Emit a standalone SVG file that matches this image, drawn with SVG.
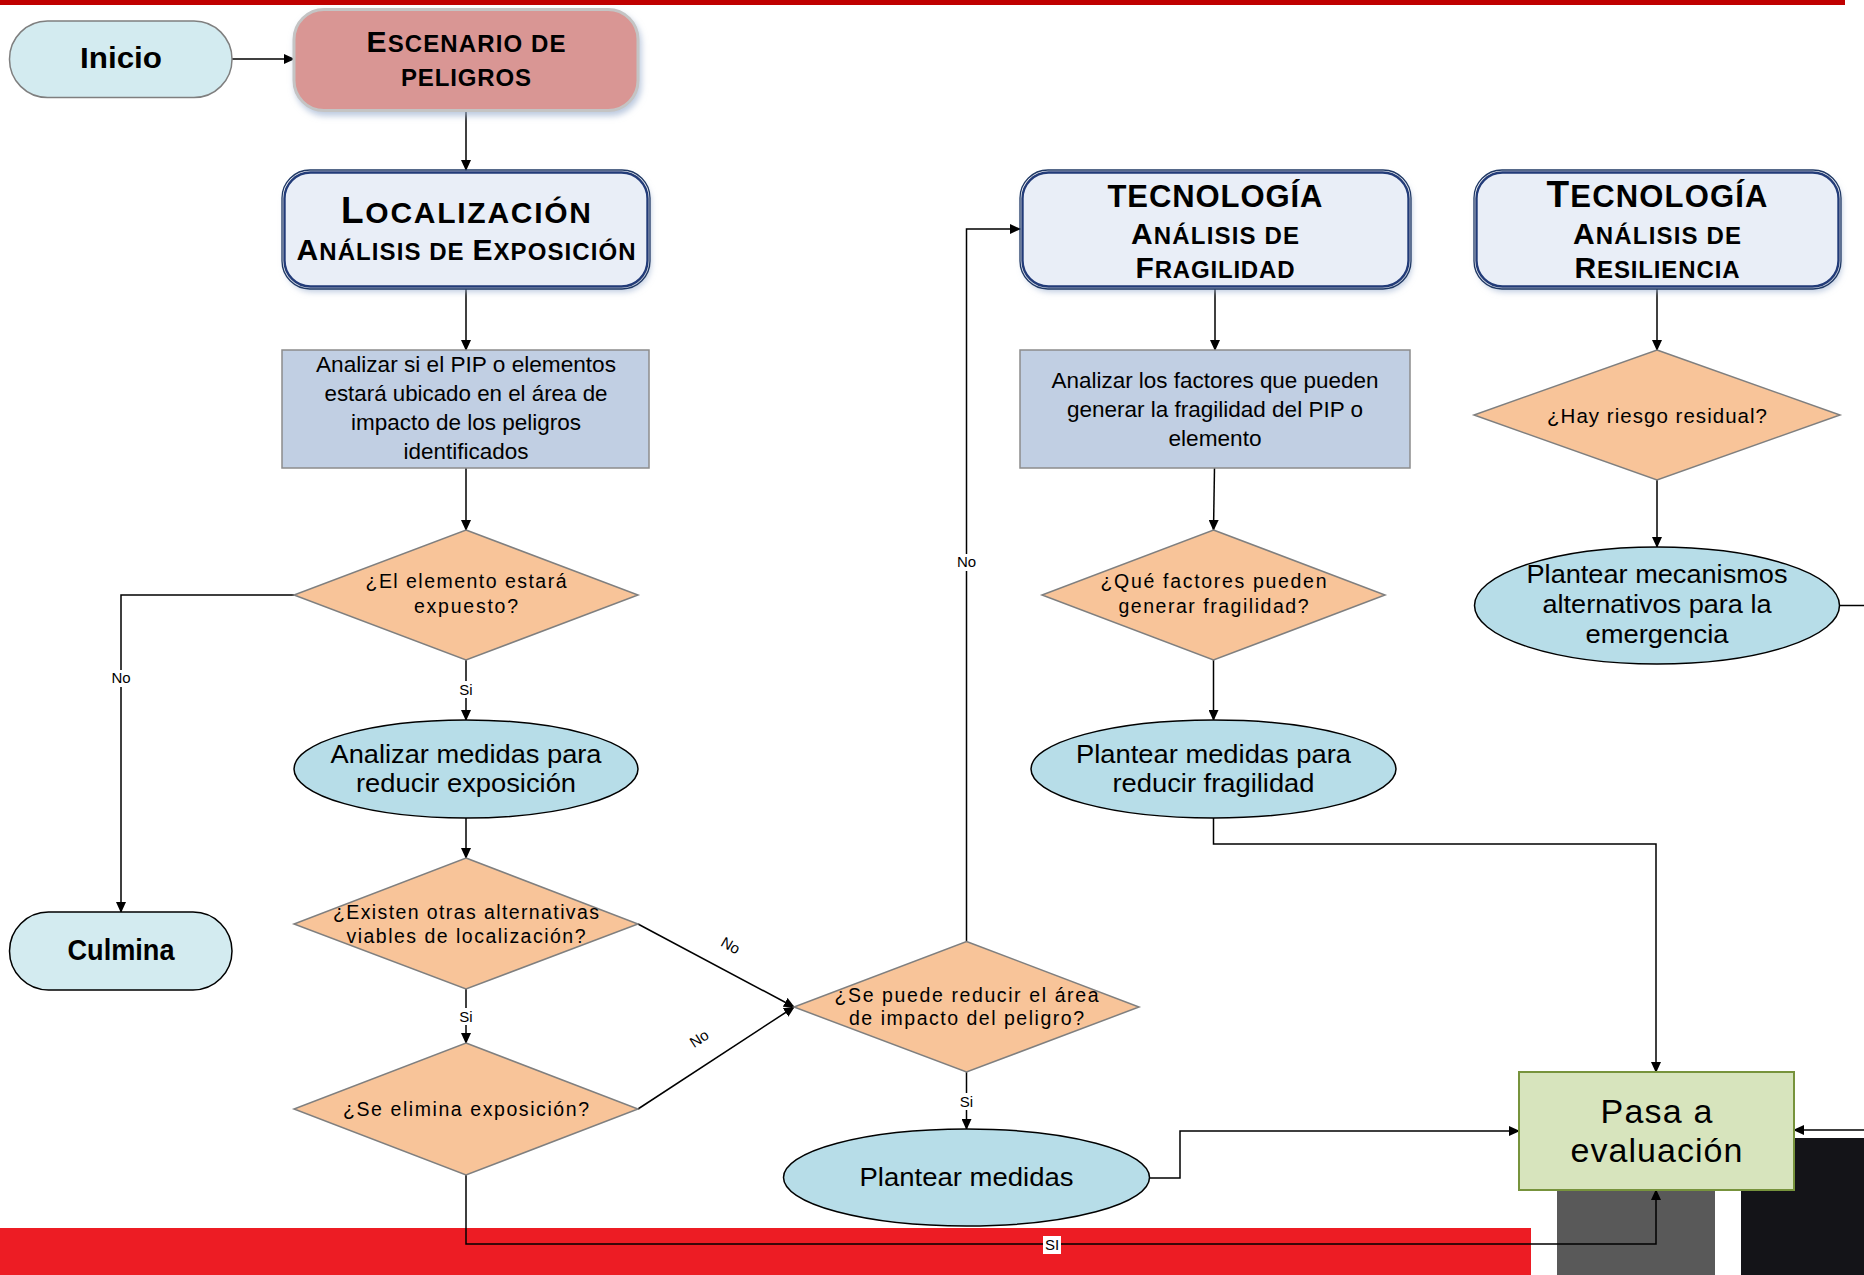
<svg xmlns="http://www.w3.org/2000/svg" width="1864" height="1275" viewBox="0 0 1864 1275">
<defs>
<style>
.t{font-family:"Liberation Sans",Arial,sans-serif;fill:#000;text-anchor:middle}
.b{font-weight:bold}
.term{fill:#d3ebf0}
.rect{fill:#c1cfe3;stroke:#8c8c8c;stroke-width:1.5}
.dia{fill:#f8c499;stroke:#7f7f7f;stroke-width:1.5}
.ell{fill:#b7dde8;stroke:#000;stroke-width:1.5}
.hdr-o{fill:none;stroke:#1f3864;stroke-width:1.3}
.hdr-i{fill:#e9eef7;stroke:#203a78;stroke-width:2.4}
.con{fill:none;stroke:#000;stroke-width:1.5}
.arr{marker-end:url(#ah)}
.lbl{font-size:15px}
.lblbg{fill:#fff}
.rt{font-size:22px}
.dt{font-size:19.5px}
.et{font-size:25px}
</style>
<marker id="ah" markerWidth="11" markerHeight="10" refX="10" refY="5" orient="auto" markerUnits="userSpaceOnUse">
<path d="M0,0 L11,5 L0,10 z" fill="#000"/>
</marker>
<filter id="sh" x="-10%" y="-10%" width="125%" height="135%">
<feDropShadow dx="2" dy="4" stdDeviation="3" flood-color="#9fb2d0" flood-opacity="0.7"/>
</filter>
</defs>

<g id="background">
<rect x="0" y="0" width="1845" height="5" fill="#c00000"/>
<rect x="0" y="1228" width="1531" height="47" fill="#ed1c24"/>
<rect x="1557" y="1150" width="158" height="125" fill="#595959"/>
<rect x="1741" y="1138" width="123" height="137" fill="#141418"/>
</g>

<g id="connectors">
<path class="con arr" d="M232,59 H294"/>
<path class="con arr" d="M466,110.5 V170"/>
<path class="con arr" d="M466,289 V350"/>
<path class="con arr" d="M466,468 V530"/>
<path class="con arr" d="M294,595 H121 V912"/>
<path class="con arr" d="M466,660 V720"/>
<path class="con arr" d="M466,818 V858"/>
<path class="con arr" d="M466,989 V1043"/>
<path class="con arr" d="M638,924 L794,1007"/>
<path class="con arr" d="M638,1109 L794,1007"/>
<path class="con arr" d="M966.5,941.5 V229 H1020"/>
<path class="con arr" d="M966.5,1072 V1129"/>
<path class="con arr" d="M1150,1178 H1180 V1131 H1519"/>
<path class="con arr" d="M466,1175 V1244 H1656 V1190"/>
<path class="con arr" d="M1215,289 V350"/>
<path class="con arr" d="M1214.5,468 L1213.5,530"/>
<path class="con arr" d="M1213.5,660 V720"/>
<path class="con arr" d="M1213.5,818 V844 H1656 V1072"/>
<path class="con arr" d="M1657,289 V350"/>
<path class="con arr" d="M1657,480 V547"/>
<path class="con" d="M1839.5,605.5 H1864"/>
<path class="con arr" d="M1864,1130 H1794"/>
<rect class="lblbg" x="110" y="670" width="22" height="17"/>
<text class="t lbl" x="121" y="683">No</text>
<rect class="lblbg" x="457" y="681" width="18" height="17"/>
<text class="t lbl" x="466" y="695">Si</text>
<rect class="lblbg" x="457" y="1008" width="18" height="17"/>
<text class="t lbl" x="466" y="1022">Si</text>
<rect class="lblbg" x="955" y="554" width="23" height="17"/>
<text class="t lbl" x="966.5" y="567">No</text>
<rect class="lblbg" x="957" y="1093" width="18" height="17"/>
<text class="t lbl" x="966.5" y="1107">Si</text>
<rect class="lblbg" x="1043" y="1236" width="18" height="18"/>
<text class="t lbl" x="1052" y="1250">SI</text>
<text class="t lbl" transform="translate(728,950) rotate(30)">No</text>
<text class="t lbl" transform="translate(702,1043) rotate(-33)">No</text>
</g>

<g id="inicio">
<rect class="term" x="9.5" y="21" width="222.5" height="76.5" rx="38" stroke="#7f7f7f" stroke-width="1.5"/>
<text class="t b" x="121" y="68" font-size="29" textLength="82" lengthAdjust="spacingAndGlyphs">Inicio</text>
</g>

<g id="escenario">
<rect x="294" y="9.5" width="344" height="101" rx="30" fill="#d99694" stroke="#c4c4c4" stroke-width="3" filter="url(#sh)"/>
<text class="t b" x="466" y="52" textLength="199" lengthAdjust="spacing"><tspan font-size="30">E</tspan><tspan font-size="24">SCENARIO DE</tspan></text>
<text class="t b" x="466" y="86" font-size="24" textLength="130" lengthAdjust="spacing">PELIGROS</text>
</g>

<g id="localizacion">
<rect class="hdr-i" x="284.5" y="172.5" width="363" height="114" rx="26" filter="url(#sh)"/>
<rect class="hdr-o" x="282" y="170" width="368" height="119" rx="28"/>
<text class="t b" x="466" y="223" textLength="250" lengthAdjust="spacing"><tspan font-size="37">L</tspan><tspan font-size="30">OCALIZACIÓN</tspan></text>
<text class="t b" x="466" y="260" textLength="339" lengthAdjust="spacing"><tspan font-size="30">A</tspan><tspan font-size="24">NÁLISIS DE </tspan><tspan font-size="30">E</tspan><tspan font-size="24">XPOSICIÓN</tspan></text>
</g>

<g id="analizar-pip">
<rect class="rect" x="282" y="350" width="367" height="118"/>
<text class="t rt" x="466" y="372" textLength="300" lengthAdjust="spacingAndGlyphs">Analizar si el PIP o elementos</text>
<text class="t rt" x="466" y="401" textLength="283" lengthAdjust="spacingAndGlyphs">estará ubicado en el área de</text>
<text class="t rt" x="466" y="430" textLength="230" lengthAdjust="spacingAndGlyphs">impacto de los peligros</text>
<text class="t rt" x="466" y="459" textLength="125" lengthAdjust="spacingAndGlyphs">identificados</text>
</g>

<g id="d-expuesto">
<polygon class="dia" points="466,530 638,595 466,660 294,595"/>
<text class="t dt" x="466" y="588" textLength="201" lengthAdjust="spacing">¿El elemento estará</text>
<text class="t dt" x="466" y="613" textLength="104" lengthAdjust="spacing">expuesto?</text>
</g>

<g id="medidas-exposicion">
<ellipse class="ell" cx="466" cy="769" rx="172" ry="49"/>
<text class="t et" x="466" y="763" textLength="271" lengthAdjust="spacingAndGlyphs">Analizar medidas para</text>
<text class="t et" x="466" y="792" textLength="220" lengthAdjust="spacingAndGlyphs">reducir exposición</text>
</g>

<g id="d-alternativas">
<polygon class="dia" points="466,858 638,924 466,989 294,924"/>
<text class="t dt" x="466" y="919" textLength="266" lengthAdjust="spacing">¿Existen otras alternativas</text>
<text class="t dt" x="466" y="943" textLength="239" lengthAdjust="spacing">viables de localización?</text>
</g>

<g id="d-elimina">
<polygon class="dia" points="466,1043 638,1109 466,1175 294,1109"/>
<text class="t dt" x="466" y="1116" textLength="246" lengthAdjust="spacing">¿Se elimina exposición?</text>
</g>

<g id="culmina">
<rect class="term" x="9.5" y="912" width="222.5" height="78" rx="39" stroke="#000" stroke-width="1.5"/>
<text class="t b" x="121" y="960" font-size="29" textLength="107" lengthAdjust="spacingAndGlyphs">Culmina</text>
</g>

<g id="d-reducir-area">
<polygon class="dia" points="966.5,941.5 1139,1007 966.5,1072 794,1007"/>
<text class="t dt" x="966.5" y="1002" textLength="264" lengthAdjust="spacing">¿Se puede reducir el área</text>
<text class="t dt" x="966.5" y="1025" textLength="235" lengthAdjust="spacing">de impacto del peligro?</text>
</g>

<g id="plantear-medidas">
<ellipse class="ell" cx="966.5" cy="1177.5" rx="183" ry="48.5"/>
<text class="t et" x="966.5" y="1186" textLength="214" lengthAdjust="spacingAndGlyphs">Plantear medidas</text>
</g>

<g id="fragilidad">
<rect class="hdr-i" x="1022.5" y="172.5" width="386" height="114" rx="26" filter="url(#sh)"/>
<rect class="hdr-o" x="1020" y="170" width="391" height="119" rx="28"/>
<text class="t b" x="1215" y="207" font-size="31" textLength="215" lengthAdjust="spacing">TECNOLOGÍA</text>
<text class="t b" x="1215" y="244" textLength="168" lengthAdjust="spacing"><tspan font-size="30">A</tspan><tspan font-size="24">NÁLISIS DE</tspan></text>
<text class="t b" x="1215" y="278" textLength="159" lengthAdjust="spacing"><tspan font-size="30">F</tspan><tspan font-size="24">RAGILIDAD</tspan></text>
</g>

<g id="analizar-factores">
<rect class="rect" x="1020" y="350" width="390" height="118"/>
<text class="t rt" x="1215" y="388" textLength="327" lengthAdjust="spacingAndGlyphs">Analizar los factores que pueden</text>
<text class="t rt" x="1215" y="417" textLength="296" lengthAdjust="spacingAndGlyphs">generar la fragilidad del PIP o</text>
<text class="t rt" x="1215" y="446" textLength="93" lengthAdjust="spacingAndGlyphs">elemento</text>
</g>

<g id="d-factores">
<polygon class="dia" points="1213.5,530 1385,595 1213.5,660 1042,595"/>
<text class="t dt" x="1213.5" y="588" textLength="226" lengthAdjust="spacing">¿Qué factores pueden</text>
<text class="t dt" x="1213.5" y="613" textLength="190" lengthAdjust="spacing">generar fragilidad?</text>
</g>

<g id="medidas-fragilidad">
<ellipse class="ell" cx="1213.5" cy="769" rx="182.5" ry="49"/>
<text class="t et" x="1213.5" y="763" textLength="275" lengthAdjust="spacingAndGlyphs">Plantear medidas para</text>
<text class="t et" x="1213.5" y="792" textLength="202" lengthAdjust="spacingAndGlyphs">reducir fragilidad</text>
</g>

<g id="resiliencia">
<rect class="hdr-i" x="1476.5" y="172.5" width="362" height="114" rx="26" filter="url(#sh)"/>
<rect class="hdr-o" x="1474" y="170" width="367" height="119" rx="28"/>
<text class="t b" x="1657" y="207" textLength="221" lengthAdjust="spacing"><tspan font-size="37">T</tspan><tspan font-size="31">ECNOLOGÍA</tspan></text>
<text class="t b" x="1657" y="244" textLength="168" lengthAdjust="spacing"><tspan font-size="30">A</tspan><tspan font-size="24">NÁLISIS DE</tspan></text>
<text class="t b" x="1657" y="278" textLength="165" lengthAdjust="spacing"><tspan font-size="30">R</tspan><tspan font-size="24">ESILIENCIA</tspan></text>
</g>

<g id="d-riesgo">
<polygon class="dia" points="1657,350 1840,415 1657,480 1474,415"/>
<text class="t" x="1657" y="423" font-size="20.5" textLength="220" lengthAdjust="spacing">¿Hay riesgo residual?</text>
</g>

<g id="mecanismos">
<ellipse class="ell" cx="1657" cy="605.5" rx="182.5" ry="58.5"/>
<text class="t et" x="1657" y="583" textLength="261" lengthAdjust="spacingAndGlyphs">Plantear mecanismos</text>
<text class="t et" x="1657" y="613" textLength="229" lengthAdjust="spacingAndGlyphs">alternativos para la</text>
<text class="t et" x="1657" y="643" textLength="143" lengthAdjust="spacingAndGlyphs">emergencia</text>
</g>

<g id="pasa-evaluacion">
<rect x="1519" y="1072" width="275" height="118" fill="#d7e4bd" stroke="#77933c" stroke-width="2"/>
<text class="t" x="1656.5" y="1123" font-size="34" textLength="112" lengthAdjust="spacing">Pasa a</text>
<text class="t" x="1656.5" y="1162" font-size="34" textLength="172" lengthAdjust="spacing">evaluación</text>
</g>
</svg>
